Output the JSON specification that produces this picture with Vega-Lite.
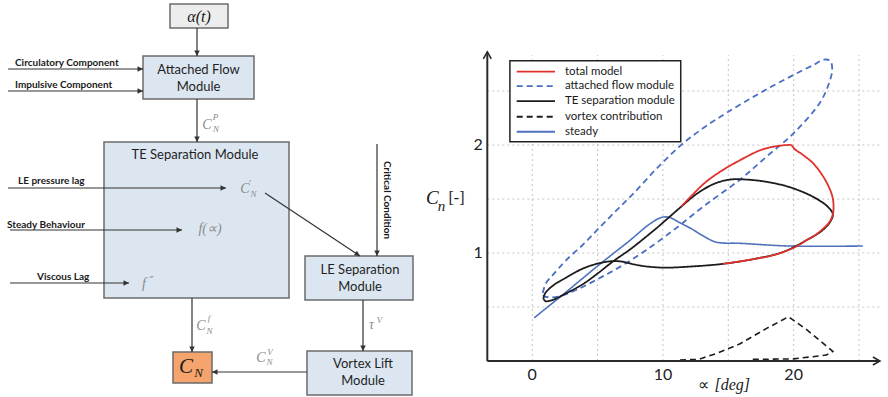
{
  "$schema": "https://vega.github.io/schema/vega-lite/v6.json",
  "background": "white",
  "padding": 0,
  "spacing": 0,
  "config": {"view": {"stroke": null}},
  "resolve": {"scale": {"x": "independent", "y": "independent", "color": "independent", "fill": "independent", "strokeDash": "independent"}},
  "datasets": {
    "boxes": [
      {"name": "alpha", "kind": "input", "x1": 170, "x2": 228, "y1": 4, "y2": 28},
      {"name": "attached", "kind": "module", "x1": 143, "x2": 254, "y1": 56, "y2": 99},
      {"name": "te", "kind": "module", "x1": 104, "x2": 289, "y1": 142, "y2": 298},
      {"name": "le", "kind": "module", "x1": 305, "x2": 413, "y1": 256, "y2": 300},
      {"name": "vortex", "kind": "module", "x1": 307, "x2": 412, "y1": 351, "y2": 395},
      {"name": "cn", "kind": "output", "x1": 173, "x2": 212, "y1": 352, "y2": 383}
    ],
    "arrows": [
      {"x1": 197, "y1": 28, "x2": 197, "y2": 56, "dir": "down"},
      {"x1": 8, "y1": 69, "x2": 143, "y2": 69, "dir": "right"},
      {"x1": 8, "y1": 91, "x2": 143, "y2": 91, "dir": "right"},
      {"x1": 197, "y1": 99, "x2": 197, "y2": 142, "dir": "down"},
      {"x1": 8, "y1": 188, "x2": 226, "y2": 188, "dir": "right"},
      {"x1": 10, "y1": 230, "x2": 182, "y2": 230, "dir": "right"},
      {"x1": 10, "y1": 283, "x2": 129, "y2": 283, "dir": "right"},
      {"x1": 265, "y1": 193, "x2": 360, "y2": 256, "dir": "diag"},
      {"x1": 377, "y1": 144, "x2": 377, "y2": 256, "dir": "down"},
      {"x1": 192, "y1": 298, "x2": 192, "y2": 352, "dir": "down"},
      {"x1": 363, "y1": 300, "x2": 363, "y2": 351, "dir": "down"},
      {"x1": 307, "y1": 372, "x2": 212, "y2": 372, "dir": "left"}
    ],
    "inputs": [
      {"t": "Circulatory Component", "x": 15, "y": 63},
      {"t": "Impulsive Component", "x": 15, "y": 85},
      {"t": "LE pressure lag", "x": 18, "y": 181},
      {"t": "Steady Behaviour", "x": 7, "y": 225},
      {"t": "Viscous Lag", "x": 37, "y": 277}
    ],
    "titles": [
      {"t": "Attached Flow", "x": 198.5, "y": 70},
      {"t": "Module", "x": 198.5, "y": 87},
      {"t": "TE Separation Module", "x": 195, "y": 155},
      {"t": "LE Separation", "x": 360, "y": 270},
      {"t": "Module", "x": 360, "y": 286.5},
      {"t": "Vortex Lift", "x": 363, "y": 364},
      {"t": "Module", "x": 363, "y": 381}
    ],
    "mathbase": [
      {"t": "C", "x": 207, "y": 125},
      {"t": "C", "x": 245, "y": 189},
      {"t": "C", "x": 201, "y": 326},
      {"t": "τ", "x": 371.5, "y": 325},
      {"t": "C", "x": 261, "y": 357.5},
      {"t": "f(∝)", "x": 210, "y": 229},
      {"t": "f", "x": 144, "y": 284}
    ],
    "mathsub": [
      {"t": "N", "x": 216, "y": 129},
      {"t": "N", "x": 253.5, "y": 194},
      {"t": "N", "x": 209.5, "y": 330.5},
      {"t": "N", "x": 269.5, "y": 362}
    ],
    "mathsup": [
      {"t": "P", "x": 215.5, "y": 117},
      {"t": "f", "x": 209, "y": 318},
      {"t": "V", "x": 379.5, "y": 320},
      {"t": "V", "x": 270, "y": 352}
    ],
    "primes": [
      {"t": "′", "x": 250, "y": 185},
      {"t": "″", "x": 151.5, "y": 281}
    ],
    "curves": [
      {"s": "attached flow module", "o": 1, "a": 0.8, "c": 0.63},
      {"s": "attached flow module", "o": 2, "a": 1.05, "c": 0.72},
      {"s": "attached flow module", "o": 3, "a": 1.6, "c": 0.8},
      {"s": "attached flow module", "o": 4, "a": 2.56, "c": 0.93},
      {"s": "attached flow module", "o": 5, "a": 3.9, "c": 1.08},
      {"s": "attached flow module", "o": 6, "a": 5.1, "c": 1.23},
      {"s": "attached flow module", "o": 7, "a": 6.4, "c": 1.39},
      {"s": "attached flow module", "o": 8, "a": 7.73, "c": 1.55},
      {"s": "attached flow module", "o": 9, "a": 9.5, "c": 1.78},
      {"s": "attached flow module", "o": 10, "a": 11.3, "c": 1.99},
      {"s": "attached flow module", "o": 11, "a": 13.0, "c": 2.15},
      {"s": "attached flow module", "o": 12, "a": 14.9, "c": 2.3},
      {"s": "attached flow module", "o": 13, "a": 17.4, "c": 2.48},
      {"s": "attached flow module", "o": 14, "a": 20.0, "c": 2.65},
      {"s": "attached flow module", "o": 15, "a": 21.5, "c": 2.74},
      {"s": "attached flow module", "o": 16, "a": 22.3, "c": 2.79},
      {"s": "attached flow module", "o": 17, "a": 22.8, "c": 2.78},
      {"s": "attached flow module", "o": 18, "a": 22.95, "c": 2.7},
      {"s": "attached flow module", "o": 19, "a": 22.7, "c": 2.57},
      {"s": "attached flow module", "o": 20, "a": 22.0, "c": 2.39},
      {"s": "attached flow module", "o": 21, "a": 20.0, "c": 2.11},
      {"s": "attached flow module", "o": 22, "a": 18.0, "c": 1.9},
      {"s": "attached flow module", "o": 23, "a": 15.9, "c": 1.68},
      {"s": "attached flow module", "o": 24, "a": 13.3, "c": 1.45},
      {"s": "attached flow module", "o": 25, "a": 11.0, "c": 1.23},
      {"s": "attached flow module", "o": 26, "a": 8.75, "c": 1.03},
      {"s": "attached flow module", "o": 27, "a": 6.96, "c": 0.89},
      {"s": "attached flow module", "o": 28, "a": 5.18, "c": 0.77},
      {"s": "attached flow module", "o": 29, "a": 3.4, "c": 0.66},
      {"s": "attached flow module", "o": 30, "a": 2.1, "c": 0.6},
      {"s": "attached flow module", "o": 31, "a": 1.3, "c": 0.59},
      {"s": "attached flow module", "o": 32, "a": 0.9, "c": 0.6},
      {"s": "attached flow module", "o": 33, "a": 0.8, "c": 0.63},
      {"s": "steady", "o": 1, "a": 0.15, "c": 0.4},
      {"s": "steady", "o": 2, "a": 2.5, "c": 0.63},
      {"s": "steady", "o": 3, "a": 5.0, "c": 0.88},
      {"s": "steady", "o": 4, "a": 7.5, "c": 1.12},
      {"s": "steady", "o": 5, "a": 9.0, "c": 1.27},
      {"s": "steady", "o": 6, "a": 9.9, "c": 1.33},
      {"s": "steady", "o": 7, "a": 10.5, "c": 1.33},
      {"s": "steady", "o": 8, "a": 11.3, "c": 1.28},
      {"s": "steady", "o": 9, "a": 12.1, "c": 1.23},
      {"s": "steady", "o": 10, "a": 13.2, "c": 1.15},
      {"s": "steady", "o": 11, "a": 14.1, "c": 1.1},
      {"s": "steady", "o": 12, "a": 15.9, "c": 1.09},
      {"s": "steady", "o": 13, "a": 19.7, "c": 1.065},
      {"s": "steady", "o": 14, "a": 25.3, "c": 1.065},
      {"s": "vortex contribution", "o": 1, "a": 11.3, "c": 0.01},
      {"s": "vortex contribution", "o": 2, "a": 12.7, "c": 0.015},
      {"s": "vortex contribution", "o": 3, "a": 14.1, "c": 0.07},
      {"s": "vortex contribution", "o": 4, "a": 15.9, "c": 0.16},
      {"s": "vortex contribution", "o": 5, "a": 17.9, "c": 0.3},
      {"s": "vortex contribution", "o": 6, "a": 19.6, "c": 0.41},
      {"s": "vortex contribution", "o": 7, "a": 21.0, "c": 0.29},
      {"s": "vortex contribution", "o": 8, "a": 23.0, "c": 0.09},
      {"s": "vortex contribution", "o": 9, "a": 22.5, "c": 0.055},
      {"s": "vortex contribution", "o": 10, "a": 20.0, "c": 0.02},
      {"s": "vortex contribution", "o": 11, "a": 16.7, "c": 0.015},
      {"s": "TE separation module", "o": 1, "a": 0.85, "c": 0.58},
      {"s": "TE separation module", "o": 2, "a": 1.0, "c": 0.63},
      {"s": "TE separation module", "o": 3, "a": 1.6, "c": 0.7},
      {"s": "TE separation module", "o": 4, "a": 2.56, "c": 0.77},
      {"s": "TE separation module", "o": 5, "a": 3.85, "c": 0.855},
      {"s": "TE separation module", "o": 6, "a": 5.1, "c": 0.905},
      {"s": "TE separation module", "o": 7, "a": 6.15, "c": 0.925},
      {"s": "TE separation module", "o": 8, "a": 6.9, "c": 0.92},
      {"s": "TE separation module", "o": 9, "a": 8.2, "c": 0.885},
      {"s": "TE separation module", "o": 10, "a": 10.0, "c": 0.865},
      {"s": "TE separation module", "o": 11, "a": 12.1, "c": 0.875},
      {"s": "TE separation module", "o": 12, "a": 14.6, "c": 0.9},
      {"s": "TE separation module", "o": 13, "a": 17.2, "c": 0.95},
      {"s": "TE separation module", "o": 14, "a": 19.2, "c": 1.01},
      {"s": "TE separation module", "o": 15, "a": 21.0, "c": 1.12},
      {"s": "TE separation module", "o": 16, "a": 22.2, "c": 1.21},
      {"s": "TE separation module", "o": 17, "a": 22.8, "c": 1.29},
      {"s": "TE separation module", "o": 18, "a": 23.0, "c": 1.36},
      {"s": "TE separation module", "o": 19, "a": 22.6, "c": 1.43},
      {"s": "TE separation module", "o": 20, "a": 21.5, "c": 1.52},
      {"s": "TE separation module", "o": 21, "a": 19.7, "c": 1.61},
      {"s": "TE separation module", "o": 22, "a": 17.9, "c": 1.66},
      {"s": "TE separation module", "o": 23, "a": 16.4, "c": 1.68},
      {"s": "TE separation module", "o": 24, "a": 15.1, "c": 1.68},
      {"s": "TE separation module", "o": 25, "a": 13.9, "c": 1.64},
      {"s": "TE separation module", "o": 26, "a": 12.6, "c": 1.55},
      {"s": "TE separation module", "o": 27, "a": 11.5, "c": 1.44},
      {"s": "TE separation module", "o": 28, "a": 10.5, "c": 1.335},
      {"s": "TE separation module", "o": 29, "a": 9.6, "c": 1.24},
      {"s": "TE separation module", "o": 30, "a": 8.6, "c": 1.14},
      {"s": "TE separation module", "o": 31, "a": 7.5, "c": 1.035},
      {"s": "TE separation module", "o": 32, "a": 6.15, "c": 0.92},
      {"s": "TE separation module", "o": 33, "a": 5.1, "c": 0.82},
      {"s": "TE separation module", "o": 34, "a": 3.85, "c": 0.71},
      {"s": "TE separation module", "o": 35, "a": 2.56, "c": 0.625},
      {"s": "TE separation module", "o": 36, "a": 1.54, "c": 0.565},
      {"s": "TE separation module", "o": 37, "a": 1.0, "c": 0.555},
      {"s": "TE separation module", "o": 38, "a": 0.85, "c": 0.58},
      {"s": "total model", "o": 1, "a": 14.6, "c": 0.9},
      {"s": "total model", "o": 2, "a": 16.0, "c": 0.925},
      {"s": "total model", "o": 3, "a": 17.2, "c": 0.95},
      {"s": "total model", "o": 4, "a": 18.3, "c": 0.975},
      {"s": "total model", "o": 5, "a": 19.2, "c": 1.01},
      {"s": "total model", "o": 6, "a": 20.2, "c": 1.06},
      {"s": "total model", "o": 7, "a": 21.0, "c": 1.12},
      {"s": "total model", "o": 8, "a": 21.7, "c": 1.17},
      {"s": "total model", "o": 9, "a": 22.2, "c": 1.22},
      {"s": "total model", "o": 10, "a": 22.7, "c": 1.28},
      {"s": "total model", "o": 11, "a": 23.0, "c": 1.36},
      {"s": "total model", "o": 12, "a": 23.05, "c": 1.45},
      {"s": "total model", "o": 13, "a": 22.95, "c": 1.53},
      {"s": "total model", "o": 14, "a": 22.7, "c": 1.61},
      {"s": "total model", "o": 15, "a": 22.2, "c": 1.72},
      {"s": "total model", "o": 16, "a": 21.5, "c": 1.83},
      {"s": "total model", "o": 17, "a": 20.7, "c": 1.91},
      {"s": "total model", "o": 18, "a": 20.1, "c": 1.96},
      {"s": "total model", "o": 19, "a": 19.8, "c": 2.0},
      {"s": "total model", "o": 20, "a": 19.5, "c": 2.0},
      {"s": "total model", "o": 21, "a": 19.0, "c": 1.995},
      {"s": "total model", "o": 22, "a": 17.9, "c": 1.97},
      {"s": "total model", "o": 23, "a": 17.2, "c": 1.94},
      {"s": "total model", "o": 24, "a": 15.9, "c": 1.86},
      {"s": "total model", "o": 25, "a": 14.6, "c": 1.77},
      {"s": "total model", "o": 26, "a": 13.3, "c": 1.66},
      {"s": "total model", "o": 27, "a": 12.1, "c": 1.52},
      {"s": "total model", "o": 28, "a": 11.4, "c": 1.43}
    ],
    "legend": [
      {"s": "total model", "ly": 2.679},
      {"s": "attached flow module", "ly": 2.546},
      {"s": "TE separation module", "ly": 2.407},
      {"s": "vortex contribution", "ly": 2.262},
      {"s": "steady", "ly": 2.123}
    ]
  },
  "hconcat": [
    {
      "width": 420,
      "height": 397,
      "layer": [
        {
          "data": {"name": "boxes"},
          "mark": {"type": "rect", "stroke": "#6b6b6b", "strokeWidth": 1.5},
          "encoding": {
            "x": {"field": "x1", "type": "quantitative", "scale": {"domain": [0, 420], "nice": false, "zero": false}, "axis": null},
            "x2": {"field": "x2"},
            "y": {"field": "y1", "type": "quantitative", "scale": {"domain": [0, 397], "nice": false, "zero": false, "reverse": true}, "axis": null},
            "y2": {"field": "y2"},
            "fill": {"field": "kind", "type": "nominal", "scale": {"domain": ["input", "module", "output"], "range": ["#ededed", "#dce6f1", "#f4a46c"]}, "legend": null}
          }
        },
        {
          "data": {"name": "arrows"},
          "mark": {"type": "rule", "stroke": "#333333", "strokeWidth": 1.2},
          "encoding": {
            "x": {"field": "x1", "type": "quantitative", "scale": {"domain": [0, 420], "nice": false, "zero": false}, "axis": null},
            "x2": {"field": "x2"},
            "y": {"field": "y1", "type": "quantitative", "scale": {"domain": [0, 397], "nice": false, "zero": false, "reverse": true}, "axis": null},
            "y2": {"field": "y2"}
          }
        },
        {
          "data": {"name": "arrows"},
          "transform": [{"filter": "datum.dir === 'down'"}],
          "mark": {"type": "point", "shape": "M-1,-2L0,0L1,-2Z", "filled": true, "fill": "#333333", "opacity": 1, "size": 30, "strokeWidth": 0},
          "encoding": {
            "x": {"field": "x2", "type": "quantitative", "scale": {"domain": [0, 420], "nice": false, "zero": false}, "axis": null},
            "y": {"field": "y2", "type": "quantitative", "scale": {"domain": [0, 397], "nice": false, "zero": false, "reverse": true}, "axis": null}
          }
        },
        {
          "data": {"name": "arrows"},
          "transform": [{"filter": "datum.dir === 'right'"}],
          "mark": {"type": "point", "shape": "M-2,-1L0,0L-2,1Z", "filled": true, "fill": "#333333", "opacity": 1, "size": 30, "strokeWidth": 0},
          "encoding": {
            "x": {"field": "x2", "type": "quantitative", "scale": {"domain": [0, 420], "nice": false, "zero": false}, "axis": null},
            "y": {"field": "y2", "type": "quantitative", "scale": {"domain": [0, 397], "nice": false, "zero": false, "reverse": true}, "axis": null}
          }
        },
        {
          "data": {"name": "arrows"},
          "transform": [{"filter": "datum.dir === 'left'"}],
          "mark": {"type": "point", "shape": "M2,-1L0,0L2,1Z", "filled": true, "fill": "#333333", "opacity": 1, "size": 30, "strokeWidth": 0},
          "encoding": {
            "x": {"field": "x2", "type": "quantitative", "scale": {"domain": [0, 420], "nice": false, "zero": false}, "axis": null},
            "y": {"field": "y2", "type": "quantitative", "scale": {"domain": [0, 397], "nice": false, "zero": false, "reverse": true}, "axis": null}
          }
        },
        {
          "data": {"name": "arrows"},
          "transform": [{"filter": "datum.dir === 'diag'"}],
          "mark": {"type": "point", "shape": "M-2,-1L0,0L-2,1Z", "angle": 33, "filled": true, "fill": "#333333", "opacity": 1, "size": 30, "strokeWidth": 0},
          "encoding": {
            "x": {"field": "x2", "type": "quantitative", "scale": {"domain": [0, 420], "nice": false, "zero": false}, "axis": null},
            "y": {"field": "y2", "type": "quantitative", "scale": {"domain": [0, 397], "nice": false, "zero": false, "reverse": true}, "axis": null}
          }
        },
        {
          "data": {"name": "inputs"},
          "mark": {"type": "text", "align": "left", "baseline": "middle", "font": "Lato", "fontWeight": "bold", "fontSize": 10, "fill": "#1a1a1a"},
          "encoding": {
            "x": {"field": "x", "type": "quantitative", "scale": {"domain": [0, 420], "nice": false, "zero": false}, "axis": null},
            "y": {"field": "y", "type": "quantitative", "scale": {"domain": [0, 397], "nice": false, "zero": false, "reverse": true}, "axis": null},
            "text": {"field": "t"}
          }
        },
        {
          "data": {"values": [{"t": "Critical Condition", "x": 387, "y": 200}]},
          "mark": {"type": "text", "align": "center", "baseline": "middle", "angle": 90, "font": "Lato", "fontWeight": "bold", "fontSize": 10, "fill": "#1a1a1a"},
          "encoding": {
            "x": {"field": "x", "type": "quantitative", "scale": {"domain": [0, 420], "nice": false, "zero": false}, "axis": null},
            "y": {"field": "y", "type": "quantitative", "scale": {"domain": [0, 397], "nice": false, "zero": false, "reverse": true}, "axis": null},
            "text": {"field": "t"}
          }
        },
        {
          "data": {"name": "titles"},
          "mark": {"type": "text", "align": "center", "baseline": "middle", "font": "Lato", "fontSize": 13, "fill": "#1f1f1f"},
          "encoding": {
            "x": {"field": "x", "type": "quantitative", "scale": {"domain": [0, 420], "nice": false, "zero": false}, "axis": null},
            "y": {"field": "y", "type": "quantitative", "scale": {"domain": [0, 397], "nice": false, "zero": false, "reverse": true}, "axis": null},
            "text": {"field": "t"}
          }
        },
        {
          "data": {"name": "mathbase"},
          "mark": {"type": "text", "align": "center", "baseline": "middle", "font": "Liberation Serif", "fontStyle": "italic", "fontSize": 14, "fill": "#8a8a8a"},
          "encoding": {
            "x": {"field": "x", "type": "quantitative", "scale": {"domain": [0, 420], "nice": false, "zero": false}, "axis": null},
            "y": {"field": "y", "type": "quantitative", "scale": {"domain": [0, 397], "nice": false, "zero": false, "reverse": true}, "axis": null},
            "text": {"field": "t"}
          }
        },
        {
          "data": {"name": "mathsub"},
          "mark": {"type": "text", "align": "center", "baseline": "middle", "font": "Liberation Serif", "fontStyle": "italic", "fontSize": 9, "fill": "#8a8a8a"},
          "encoding": {
            "x": {"field": "x", "type": "quantitative", "scale": {"domain": [0, 420], "nice": false, "zero": false}, "axis": null},
            "y": {"field": "y", "type": "quantitative", "scale": {"domain": [0, 397], "nice": false, "zero": false, "reverse": true}, "axis": null},
            "text": {"field": "t"}
          }
        },
        {
          "data": {"name": "mathsup"},
          "mark": {"type": "text", "align": "center", "baseline": "middle", "font": "Liberation Serif", "fontStyle": "italic", "fontSize": 9, "fill": "#8a8a8a"},
          "encoding": {
            "x": {"field": "x", "type": "quantitative", "scale": {"domain": [0, 420], "nice": false, "zero": false}, "axis": null},
            "y": {"field": "y", "type": "quantitative", "scale": {"domain": [0, 397], "nice": false, "zero": false, "reverse": true}, "axis": null},
            "text": {"field": "t"}
          }
        },
        {
          "data": {"name": "primes"},
          "mark": {"type": "text", "align": "center", "baseline": "middle", "font": "DejaVu Serif", "fontSize": 11, "fill": "#8a8a8a"},
          "encoding": {
            "x": {"field": "x", "type": "quantitative", "scale": {"domain": [0, 420], "nice": false, "zero": false}, "axis": null},
            "y": {"field": "y", "type": "quantitative", "scale": {"domain": [0, 397], "nice": false, "zero": false, "reverse": true}, "axis": null},
            "text": {"field": "t"}
          }
        },
        {
          "data": {"values": [{"t": "α(t)", "x": 199, "y": 16.5}]},
          "mark": {"type": "text", "align": "center", "baseline": "middle", "font": "Liberation Serif", "fontStyle": "italic", "fontSize": 16, "fill": "#1a1a1a"},
          "encoding": {
            "x": {"field": "x", "type": "quantitative", "scale": {"domain": [0, 420], "nice": false, "zero": false}, "axis": null},
            "y": {"field": "y", "type": "quantitative", "scale": {"domain": [0, 397], "nice": false, "zero": false, "reverse": true}, "axis": null},
            "text": {"field": "t"}
          }
        },
        {
          "data": {"values": [{"t": "C", "x": 186, "y": 367}]},
          "mark": {"type": "text", "align": "center", "baseline": "middle", "font": "Liberation Serif", "fontStyle": "italic", "fontSize": 21, "fill": "#1a1a1a"},
          "encoding": {
            "x": {"field": "x", "type": "quantitative", "scale": {"domain": [0, 420], "nice": false, "zero": false}, "axis": null},
            "y": {"field": "y", "type": "quantitative", "scale": {"domain": [0, 397], "nice": false, "zero": false, "reverse": true}, "axis": null},
            "text": {"field": "t"}
          }
        },
        {
          "data": {"values": [{"t": "N", "x": 198.5, "y": 372.5}]},
          "mark": {"type": "text", "align": "center", "baseline": "middle", "font": "Liberation Serif", "fontStyle": "italic", "fontSize": 13, "fill": "#1a1a1a"},
          "encoding": {
            "x": {"field": "x", "type": "quantitative", "scale": {"domain": [0, 420], "nice": false, "zero": false}, "axis": null},
            "y": {"field": "y", "type": "quantitative", "scale": {"domain": [0, 397], "nice": false, "zero": false, "reverse": true}, "axis": null},
            "text": {"field": "t"}
          }
        }
      ]
    },
    {
      "width": 468,
      "height": 397,
      "layer": [
        {
          "data": {"values": [{"a": 0}, {"a": 5}, {"a": 10}, {"a": 15}, {"a": 20}, {"a": 25}]},
          "mark": {"type": "rule", "stroke": "#c4c4c4", "strokeWidth": 1, "strokeDash": [2, 3]},
          "encoding": {
            "x": {"field": "a", "type": "quantitative", "scale": {"domain": [-8.59, 27.22], "nice": false, "zero": false}, "axis": null},
            "y": {"datum": 0, "type": "quantitative", "scale": {"domain": [-0.333, 3.343], "nice": false, "zero": false}, "axis": null},
            "y2": {"datum": 2.833}
          }
        },
        {
          "data": {"values": [{"c": 0.5}, {"c": 1}, {"c": 1.5}, {"c": 2}, {"c": 2.5}]},
          "mark": {"type": "rule", "stroke": "#c4c4c4", "strokeWidth": 1, "strokeDash": [2, 3]},
          "encoding": {
            "x": {"datum": -3.44, "type": "quantitative", "scale": {"domain": [-8.59, 27.22], "nice": false, "zero": false}, "axis": null},
            "x2": {"datum": 26.8},
            "y": {"field": "c", "type": "quantitative", "scale": {"domain": [-0.333, 3.343], "nice": false, "zero": false}, "axis": null}
          }
        },
        {
          "data": {"name": "curves"},
          "transform": [{"filter": "datum.s === 'attached flow module'"}],
          "mark": {"type": "line", "strokeWidth": 1.8, "interpolate": "catmull-rom"},
          "encoding": {
            "x": {"field": "a", "type": "quantitative", "scale": {"domain": [-8.59, 27.22], "nice": false, "zero": false}, "axis": null},
            "y": {"field": "c", "type": "quantitative", "scale": {"domain": [-0.333, 3.343], "nice": false, "zero": false}, "axis": null},
            "order": {"field": "o", "type": "quantitative"},
            "color": {"field": "s", "type": "nominal", "scale": {"domain": ["total model", "attached flow module", "TE separation module", "vortex contribution", "steady"], "range": ["#e2302b", "#4a6fc2", "#1c1c1c", "#1c1c1c", "#4e72bd"]}, "legend": null},
            "strokeDash": {"field": "s", "type": "nominal", "scale": {"domain": ["total model", "attached flow module", "TE separation module", "vortex contribution", "steady"], "range": [[1, 0], [6, 4], [1, 0], [6, 4], [1, 0]]}, "legend": null}
          }
        },
        {
          "data": {"name": "curves"},
          "transform": [{"filter": "datum.s === 'steady'"}],
          "mark": {"type": "line", "strokeWidth": 1.6, "interpolate": "catmull-rom"},
          "encoding": {
            "x": {"field": "a", "type": "quantitative", "scale": {"domain": [-8.59, 27.22], "nice": false, "zero": false}, "axis": null},
            "y": {"field": "c", "type": "quantitative", "scale": {"domain": [-0.333, 3.343], "nice": false, "zero": false}, "axis": null},
            "order": {"field": "o", "type": "quantitative"},
            "color": {"field": "s", "type": "nominal", "scale": {"domain": ["total model", "attached flow module", "TE separation module", "vortex contribution", "steady"], "range": ["#e2302b", "#4a6fc2", "#1c1c1c", "#1c1c1c", "#4e72bd"]}, "legend": null},
            "strokeDash": {"field": "s", "type": "nominal", "scale": {"domain": ["total model", "attached flow module", "TE separation module", "vortex contribution", "steady"], "range": [[1, 0], [6, 4], [1, 0], [6, 4], [1, 0]]}, "legend": null}
          }
        },
        {
          "data": {"name": "curves"},
          "transform": [{"filter": "datum.s === 'vortex contribution'"}],
          "mark": {"type": "line", "strokeWidth": 1.6, "interpolate": "linear"},
          "encoding": {
            "x": {"field": "a", "type": "quantitative", "scale": {"domain": [-8.59, 27.22], "nice": false, "zero": false}, "axis": null},
            "y": {"field": "c", "type": "quantitative", "scale": {"domain": [-0.333, 3.343], "nice": false, "zero": false}, "axis": null},
            "order": {"field": "o", "type": "quantitative"},
            "color": {"field": "s", "type": "nominal", "scale": {"domain": ["total model", "attached flow module", "TE separation module", "vortex contribution", "steady"], "range": ["#e2302b", "#4a6fc2", "#1c1c1c", "#1c1c1c", "#4e72bd"]}, "legend": null},
            "strokeDash": {"field": "s", "type": "nominal", "scale": {"domain": ["total model", "attached flow module", "TE separation module", "vortex contribution", "steady"], "range": [[1, 0], [6, 4], [1, 0], [6, 4], [1, 0]]}, "legend": null}
          }
        },
        {
          "data": {"name": "curves"},
          "transform": [{"filter": "datum.s === 'TE separation module'"}],
          "mark": {"type": "line", "strokeWidth": 1.8, "interpolate": "catmull-rom"},
          "encoding": {
            "x": {"field": "a", "type": "quantitative", "scale": {"domain": [-8.59, 27.22], "nice": false, "zero": false}, "axis": null},
            "y": {"field": "c", "type": "quantitative", "scale": {"domain": [-0.333, 3.343], "nice": false, "zero": false}, "axis": null},
            "order": {"field": "o", "type": "quantitative"},
            "color": {"field": "s", "type": "nominal", "scale": {"domain": ["total model", "attached flow module", "TE separation module", "vortex contribution", "steady"], "range": ["#e2302b", "#4a6fc2", "#1c1c1c", "#1c1c1c", "#4e72bd"]}, "legend": null},
            "strokeDash": {"field": "s", "type": "nominal", "scale": {"domain": ["total model", "attached flow module", "TE separation module", "vortex contribution", "steady"], "range": [[1, 0], [6, 4], [1, 0], [6, 4], [1, 0]]}, "legend": null}
          }
        },
        {
          "data": {"name": "curves"},
          "transform": [{"filter": "datum.s === 'total model'"}],
          "mark": {"type": "line", "strokeWidth": 1.8, "interpolate": "catmull-rom"},
          "encoding": {
            "x": {"field": "a", "type": "quantitative", "scale": {"domain": [-8.59, 27.22], "nice": false, "zero": false}, "axis": null},
            "y": {"field": "c", "type": "quantitative", "scale": {"domain": [-0.333, 3.343], "nice": false, "zero": false}, "axis": null},
            "order": {"field": "o", "type": "quantitative"},
            "color": {"field": "s", "type": "nominal", "scale": {"domain": ["total model", "attached flow module", "TE separation module", "vortex contribution", "steady"], "range": ["#e2302b", "#4a6fc2", "#1c1c1c", "#1c1c1c", "#4e72bd"]}, "legend": null},
            "strokeDash": {"field": "s", "type": "nominal", "scale": {"domain": ["total model", "attached flow module", "TE separation module", "vortex contribution", "steady"], "range": [[1, 0], [6, 4], [1, 0], [6, 4], [1, 0]]}, "legend": null}
          }
        },
        {
          "data": {"values": [{}]},
          "mark": {"type": "rect", "fill": "white", "stroke": "#222222", "strokeWidth": 1.5},
          "encoding": {
            "x": {"datum": -1.71, "type": "quantitative", "scale": {"domain": [-8.59, 27.22], "nice": false, "zero": false}, "axis": null},
            "x2": {"datum": 11.36},
            "y": {"datum": 2.031, "type": "quantitative", "scale": {"domain": [-0.333, 3.343], "nice": false, "zero": false}, "axis": null},
            "y2": {"datum": 2.781}
          }
        },
        {
          "data": {"name": "legend"},
          "mark": {"type": "rule", "strokeWidth": 1.8},
          "encoding": {
            "x": {"datum": -1.19, "type": "quantitative", "scale": {"domain": [-8.59, 27.22], "nice": false, "zero": false}, "axis": null},
            "x2": {"datum": 1.74},
            "y": {"field": "ly", "type": "quantitative", "scale": {"domain": [-0.333, 3.343], "nice": false, "zero": false}, "axis": null},
            "color": {"field": "s", "type": "nominal", "scale": {"domain": ["total model", "attached flow module", "TE separation module", "vortex contribution", "steady"], "range": ["#e2302b", "#4a6fc2", "#1c1c1c", "#1c1c1c", "#4e72bd"]}, "legend": null},
            "strokeDash": {"field": "s", "type": "nominal", "scale": {"domain": ["total model", "attached flow module", "TE separation module", "vortex contribution", "steady"], "range": [[1, 0], [6, 4], [1, 0], [6, 4], [1, 0]]}, "legend": null}
          }
        },
        {
          "data": {"name": "legend"},
          "mark": {"type": "text", "align": "left", "baseline": "middle", "font": "Lato", "fontSize": 11.5, "fill": "#1a1a1a"},
          "encoding": {
            "x": {"datum": 2.5, "type": "quantitative", "scale": {"domain": [-8.59, 27.22], "nice": false, "zero": false}, "axis": null},
            "y": {"field": "ly", "type": "quantitative", "scale": {"domain": [-0.333, 3.343], "nice": false, "zero": false}, "axis": null},
            "text": {"field": "s"}
          }
        },
        {
          "data": {"values": [{}]},
          "mark": {"type": "rule", "stroke": "#2a2a2a", "strokeWidth": 2},
          "encoding": {
            "x": {"datum": -3.44, "type": "quantitative", "scale": {"domain": [-8.59, 27.22], "nice": false, "zero": false}, "axis": null},
            "y": {"datum": 0, "type": "quantitative", "scale": {"domain": [-0.333, 3.343], "nice": false, "zero": false}, "axis": null},
            "y2": {"datum": 2.862}
          }
        },
        {
          "data": {"values": [{}]},
          "mark": {"type": "rule", "stroke": "#2a2a2a", "strokeWidth": 2},
          "encoding": {
            "x": {"datum": -3.44, "type": "quantitative", "scale": {"domain": [-8.59, 27.22], "nice": false, "zero": false}, "axis": null},
            "x2": {"datum": 26.6},
            "y": {"datum": 0, "type": "quantitative", "scale": {"domain": [-0.333, 3.343], "nice": false, "zero": false}, "axis": null}
          }
        },
        {
          "data": {"values": [{}]},
          "mark": {"type": "point", "shape": "M-1,1.75L0,0L1,1.75", "filled": false, "stroke": "#2a2a2a", "strokeWidth": 1.6, "opacity": 1, "size": 64},
          "encoding": {
            "x": {"datum": -3.44, "type": "quantitative", "scale": {"domain": [-8.59, 27.22], "nice": false, "zero": false}, "axis": null},
            "y": {"datum": 2.862, "type": "quantitative", "scale": {"domain": [-0.333, 3.343], "nice": false, "zero": false}, "axis": null}
          }
        },
        {
          "data": {"values": [{}]},
          "mark": {"type": "point", "shape": "M-1.75,-1L0,0L-1.75,1", "filled": false, "stroke": "#2a2a2a", "strokeWidth": 1.6, "opacity": 1, "size": 64},
          "encoding": {
            "x": {"datum": 26.6, "type": "quantitative", "scale": {"domain": [-8.59, 27.22], "nice": false, "zero": false}, "axis": null},
            "y": {"datum": 0, "type": "quantitative", "scale": {"domain": [-0.333, 3.343], "nice": false, "zero": false}, "axis": null}
          }
        },
        {
          "data": {"values": [{"a": 0, "t": "0"}, {"a": 10, "t": "10"}, {"a": 20, "t": "20"}]},
          "mark": {"type": "text", "align": "center", "baseline": "middle", "font": "Lato", "fontSize": 16, "fill": "#222222"},
          "encoding": {
            "x": {"field": "a", "type": "quantitative", "scale": {"domain": [-8.59, 27.22], "nice": false, "zero": false}, "axis": null},
            "y": {"datum": -0.13, "type": "quantitative", "scale": {"domain": [-0.333, 3.343], "nice": false, "zero": false}, "axis": null},
            "text": {"field": "t"}
          }
        },
        {
          "data": {"values": [{"c": 1, "t": "1"}, {"c": 2, "t": "2"}]},
          "mark": {"type": "text", "align": "center", "baseline": "middle", "font": "Lato", "fontSize": 16, "fill": "#222222"},
          "encoding": {
            "x": {"datum": -4.15, "type": "quantitative", "scale": {"domain": [-8.59, 27.22], "nice": false, "zero": false}, "axis": null},
            "y": {"field": "c", "type": "quantitative", "scale": {"domain": [-0.333, 3.343], "nice": false, "zero": false}, "axis": null},
            "text": {"field": "t"}
          }
        },
        {
          "data": {"values": [{}]},
          "mark": {"type": "text", "align": "center", "baseline": "middle", "font": "Liberation Serif", "fontStyle": "italic", "fontSize": 19, "fill": "#1a1a1a", "text": "C"},
          "encoding": {
            "x": {"datum": -7.65, "type": "quantitative", "scale": {"domain": [-8.59, 27.22], "nice": false, "zero": false}, "axis": null},
            "y": {"datum": 1.51, "type": "quantitative", "scale": {"domain": [-0.333, 3.343], "nice": false, "zero": false}, "axis": null}
          }
        },
        {
          "data": {"values": [{}]},
          "mark": {"type": "text", "align": "center", "baseline": "middle", "font": "Liberation Serif", "fontStyle": "italic", "fontSize": 15, "fill": "#1a1a1a", "text": "n"},
          "encoding": {
            "x": {"datum": -6.95, "type": "quantitative", "scale": {"domain": [-8.59, 27.22], "nice": false, "zero": false}, "axis": null},
            "y": {"datum": 1.44, "type": "quantitative", "scale": {"domain": [-0.333, 3.343], "nice": false, "zero": false}, "axis": null}
          }
        },
        {
          "data": {"values": [{}]},
          "mark": {"type": "text", "align": "center", "baseline": "middle", "font": "Liberation Serif", "fontSize": 16, "fill": "#1a1a1a", "text": "[-]"},
          "encoding": {
            "x": {"datum": -5.8, "type": "quantitative", "scale": {"domain": [-8.59, 27.22], "nice": false, "zero": false}, "axis": null},
            "y": {"datum": 1.51, "type": "quantitative", "scale": {"domain": [-0.333, 3.343], "nice": false, "zero": false}, "axis": null}
          }
        },
        {
          "data": {"values": [{}]},
          "mark": {"type": "text", "align": "center", "baseline": "middle", "font": "Liberation Serif", "fontSize": 16, "fill": "#1a1a1a", "text": "∝"},
          "encoding": {
            "x": {"datum": 13.1, "type": "quantitative", "scale": {"domain": [-8.59, 27.22], "nice": false, "zero": false}, "axis": null},
            "y": {"datum": -0.222, "type": "quantitative", "scale": {"domain": [-0.333, 3.343], "nice": false, "zero": false}, "axis": null}
          }
        },
        {
          "data": {"values": [{}]},
          "mark": {"type": "text", "align": "center", "baseline": "middle", "font": "Liberation Serif", "fontStyle": "italic", "fontSize": 16, "fill": "#1a1a1a", "text": "[deg]"},
          "encoding": {
            "x": {"datum": 15.3, "type": "quantitative", "scale": {"domain": [-8.59, 27.22], "nice": false, "zero": false}, "axis": null},
            "y": {"datum": -0.222, "type": "quantitative", "scale": {"domain": [-0.333, 3.343], "nice": false, "zero": false}, "axis": null}
          }
        }
      ]
    }
  ]
}
